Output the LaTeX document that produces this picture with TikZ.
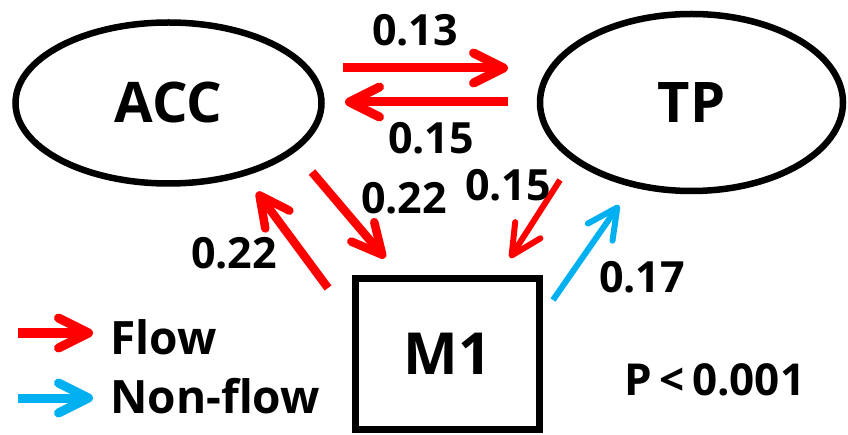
\documentclass[tikz,border=0pt]{standalone}
\usepackage{fontspec}
\setmainfont{Open Sans}
\usetikzlibrary{arrows.meta,shapes.geometric}
\definecolor{flowred}{RGB}{255,0,0}
\definecolor{nonflowblue}{RGB}{0,176,240}
\tikzset{
  ell/.style={draw=black, line width=6.5pt, ellipse, minimum width=306pt, minimum height=161pt, inner sep=0pt, font=\fontsize{56}{60}\selectfont\bfseries},
  boxnode/.style={draw=black, line width=7pt, rectangle, minimum width=184pt, minimum height=151pt, inner sep=0pt, font=\fontsize{58}{62}\selectfont\bfseries},
  lbl/.style={font=\fontsize{43}{46}\selectfont\bfseries, inner sep=0pt},
  legtxt/.style={font=\fontsize{46}{50}\selectfont\bfseries, inner sep=0pt, anchor=west},
  arr/.style={-{Straight Barb[length=30pt,width=30pt,round]}},
}
\begin{document}
\begin{tikzpicture}[x=1pt,y=-1pt]
\useasboundingbox (0,0) rectangle (848,435);
\node[ell] (ACC) at (168.5,103) {ACC};
\node[ell, minimum height=177pt, minimum width=303pt] (TP) at (691.5,102.5) {TP};
\node[boxnode] (M1) at (447.5,354) {M1};

\coordinate (a1s) at (343,68);  \coordinate (a1e) at (508,68);
\coordinate (a2s) at (508,102); \coordinate (a2e) at (345,102);
\coordinate (a3s) at (312,172); \coordinate (a3e) at (385,258);
\coordinate (a4s) at (328,288); \coordinate (a4e) at (257,192);
\coordinate (a5s) at (560,180); \coordinate (a5e) at (510,258);
\coordinate (a6s) at (553,300); \coordinate (a6e) at (619,205);
\coordinate (l1s) at (18,333);  \coordinate (l1e) at (93,333);
\coordinate (l2s) at (18,398);  \coordinate (l2e) at (93,398);

\draw[arr, flowred, line width=9pt] (a1s) -- (a1e);
\draw[arr, flowred, line width=9pt] (a2s) -- (a2e);
\draw[arr, flowred, line width=8.5pt] (a3s) -- (a3e);
\draw[arr, flowred, line width=8.5pt] (a4s) -- (a4e);
\draw[arr, flowred, line width=6pt] (a5s) -- (a5e);
\draw[arr, nonflowblue, line width=6pt] (a6s) -- (a6e);
\draw[arr, flowred, line width=9pt] (l1s) -- (l1e);
\draw[arr, nonflowblue, line width=9pt] (l2s) -- (l2e);

\node[lbl] (t1) at (415,30) {0.13};
\node[lbl] (t2) at (431,138) {0.15};
\node[lbl] (t3) at (404,198) {0.22};
\node[lbl] (t4) at (234,253) {0.22};
\node[lbl] (t5) at (508,185) {0.15};
\node[lbl] (t6) at (642,277) {0.17};
\node[legtxt] (lf) at (110,337) {Flow};
\node[legtxt] (ln) at (110,396) {Non-flow};
\node[lbl, font=\fontsize{44}{48}\selectfont\bfseries] (p) at (715,380) {P\,<\,0.001};
\end{tikzpicture}
\end{document}
